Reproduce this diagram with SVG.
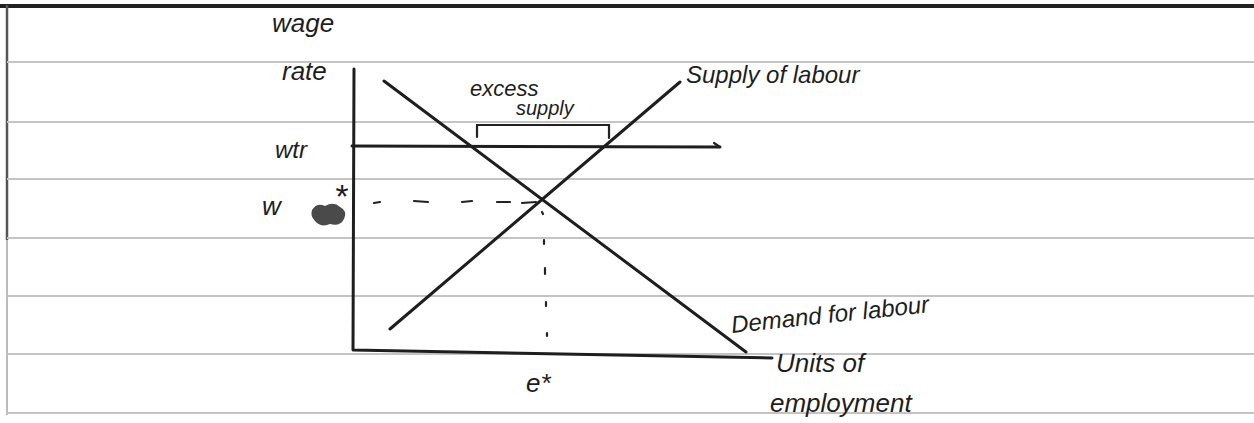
<svg xmlns="http://www.w3.org/2000/svg" width="1254" height="423" viewBox="0 0 1254 423">
<style>
.rule{stroke:#c4c4c4;stroke-width:2}
.ink{stroke:#1e1e1e;stroke-width:3;fill:none;stroke-linecap:round;stroke-linejoin:round}
.thin{stroke:#222;stroke-width:2.2;fill:none;stroke-linecap:round}
.hand{font-family:"Liberation Sans",sans-serif;fill:#1e1e1e;font-style:italic}
</style>
<rect width="1254" height="423" fill="#fff"/>
<g id="paper">
<line x1="0" y1="6" x2="1254" y2="6" stroke="#222" stroke-width="4"/>
<line x1="7" y1="5" x2="7" y2="240" stroke="#555" stroke-width="2.5"/>
<line x1="7" y1="240" x2="7" y2="415" stroke="#bbb" stroke-width="2"/>
<line class="rule" x1="7" y1="62" x2="1254" y2="62"/>
<line class="rule" x1="7" y1="122" x2="1254" y2="122"/>
<line class="rule" x1="7" y1="179" x2="1254" y2="179"/>
<line class="rule" x1="7" y1="238" x2="1254" y2="238"/>
<line class="rule" x1="7" y1="296" x2="1254" y2="296"/>
<line class="rule" x1="7" y1="354" x2="1254" y2="354"/>
<line class="rule" x1="7" y1="413" x2="1254" y2="413"/>
</g>
<g id="axes">
<path class="ink" d="M354 69 L353 350 L772 358"/>
</g>
<g id="connectors">
<line id="demand" class="ink" x1="384" y1="81" x2="746" y2="352"/>
<line id="supply" class="ink" x1="390" y1="329" x2="680" y2="82"/>
<path id="wtr-line" class="ink" d="M352 146 L720 147"/>
<path class="thin" d="M714 143 L720 147"/>
<path id="bracket" class="thin" d="M477 137 L477 125 L609 125 L609 138"/>
<path id="w-dash" class="thin" d="M374 203 L380 202 M414 201 L428 202 M462 202 L472 201 M497 202 L510 202 M522 203 L536 202"/>
<path id="e-dot" class="thin" d="M542 212 L543 214 M544 240 L544 244 M545 268 L545 274 M546 302 L546 306 M547 333 L547 336"/>
</g>
<g id="label-wage-rate">
<text class="hand" x="272" y="32" font-size="26">wage</text>
<text class="hand" x="282" y="80" font-size="26">rate</text>
</g>
<g id="label-wtr"><text class="hand" x="275" y="158" font-size="24">wtr</text></g>
<g id="label-w">
<text class="hand" x="262" y="215" font-size="26">w</text>
<text class="hand" x="334" y="208" font-size="34">*</text>
<path d="M312 210 q5 -8 13 -4 q9 -5 15 1 q8 4 4 12 q-4 8 -14 5 q-9 4 -15 -3 q-5 -5 -3 -11z" fill="#2a2a2a" opacity="0.85"/>
</g>
<g id="label-excess"><text class="hand" x="470" y="96" font-size="22">excess</text>
<text class="hand" x="516" y="115" font-size="20">supply</text></g>
<g id="label-supply"><text class="hand" x="686" y="83" font-size="24">Supply of labour</text></g>
<g id="label-demand"><text class="hand" x="732" y="333" font-size="24" transform="rotate(-6 732 333)">Demand for labour</text></g>
<g id="label-units"><text class="hand" x="776" y="372" font-size="26">Units of</text>
<text class="hand" x="770" y="412" font-size="26">employment</text></g>
<g id="label-e"><text class="hand" x="526" y="392" font-size="26">e*</text></g>
</svg>
